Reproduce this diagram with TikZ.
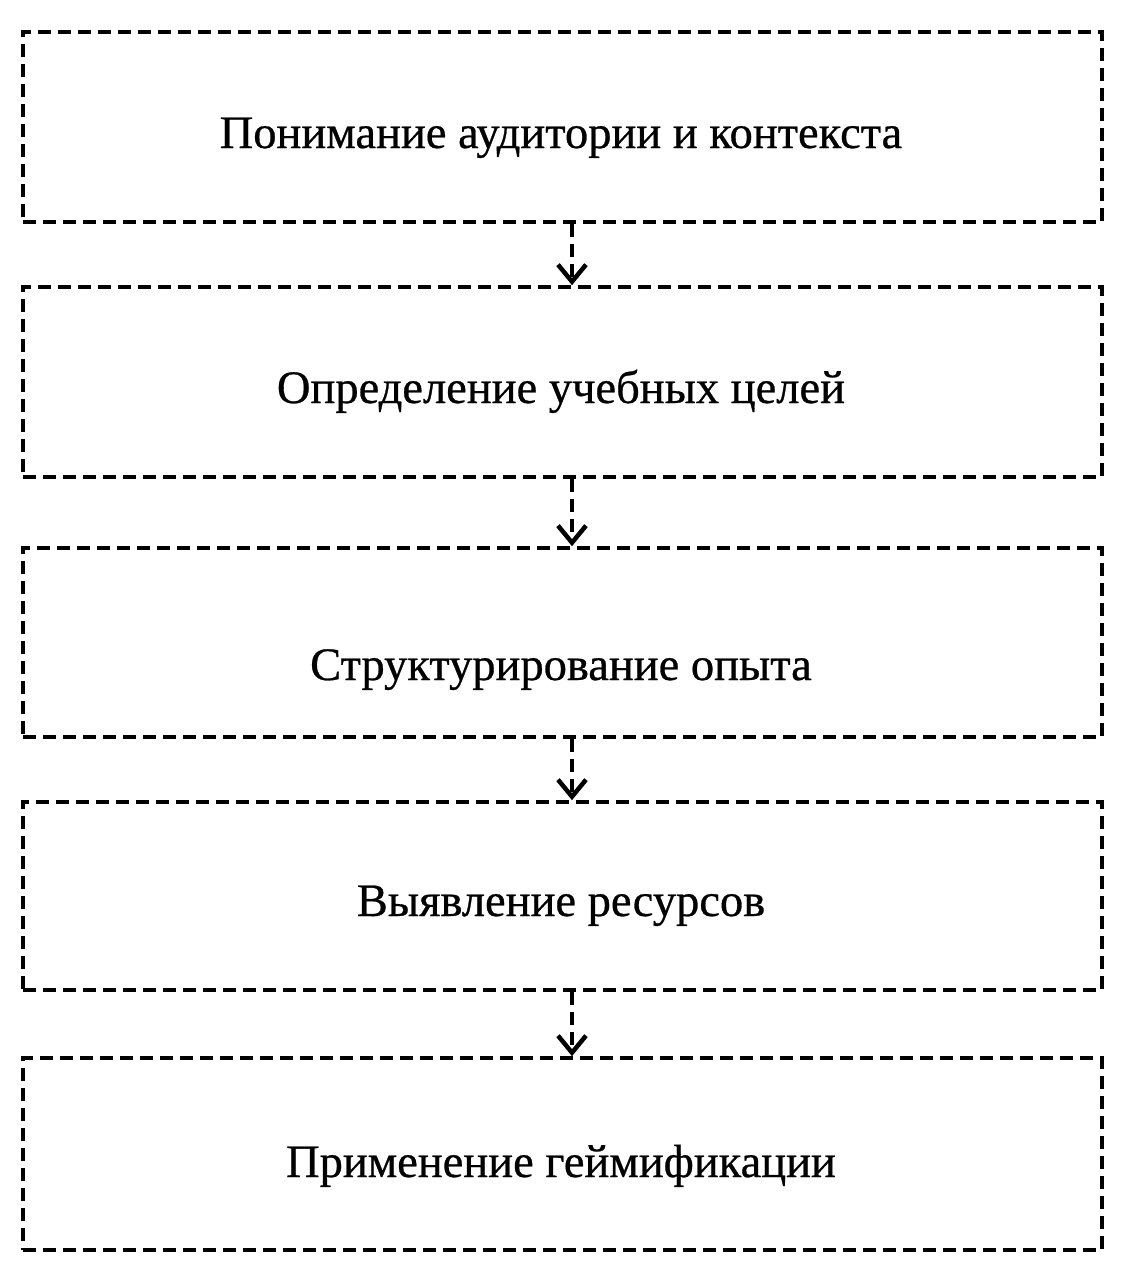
\documentclass[tikz,border=0pt]{standalone}
\usepackage{fontspec}
\setmainfont{Liberation Serif}
\newfontfamily\labelfont[FakeBold=0.6]{Liberation Serif}
\usetikzlibrary{arrows.meta}
\begin{document}
\begin{tikzpicture}[x=1pt,y=-1pt,
  stagebox/.style={draw=black, line width=3.6pt, dash pattern=on 13pt off 7pt,
    minimum width=1079pt, inner sep=0pt},
  stagetext/.style={anchor=base, inner sep=0pt, font=\labelfont\fontsize{46.5}{54}\selectfont},
  flowarrow/.style={draw=black, line width=3.6pt, dash pattern=on 13pt off 7pt,
    -{Straight Barb[length=17pt,width=28pt,line width=4.5pt]}}]
\useasboundingbox (0,0) rectangle (1127,1263);
\node[stagebox, minimum height=190pt] (b1) at (562.5,127) {};
\node[stagebox, minimum height=190pt] (b2) at (562.5,382) {};
\node[stagebox, minimum height=189pt] (b3) at (562.5,642.5) {};
\node[stagebox, minimum height=188pt] (b4) at (562.5,896) {};
\node[stagebox, minimum height=192pt] (b5) at (562.5,1154) {};
\node[stagetext] (t1) at (561,148) {Понимание аудитории и контекста};
\node[stagetext] (t2) at (561,403) {Определение учебных целей};
\node[stagetext] (t3) at (561,680) {Структурирование опыта};
\node[stagetext] (t4) at (561,916) {Выявление ресурсов};
\node[stagetext] (t5) at (561,1177) {Применение геймификации};
\coordinate (ax) at (572,0);
\draw[flowarrow] (b1.south -| ax) -- (b2.north -| ax);
\draw[flowarrow] (b2.south -| ax) -- (b3.north -| ax);
\draw[flowarrow] (b3.south -| ax) -- (b4.north -| ax);
\draw[flowarrow] (b4.south -| ax) -- (b5.north -| ax);
\end{tikzpicture}
\end{document}
